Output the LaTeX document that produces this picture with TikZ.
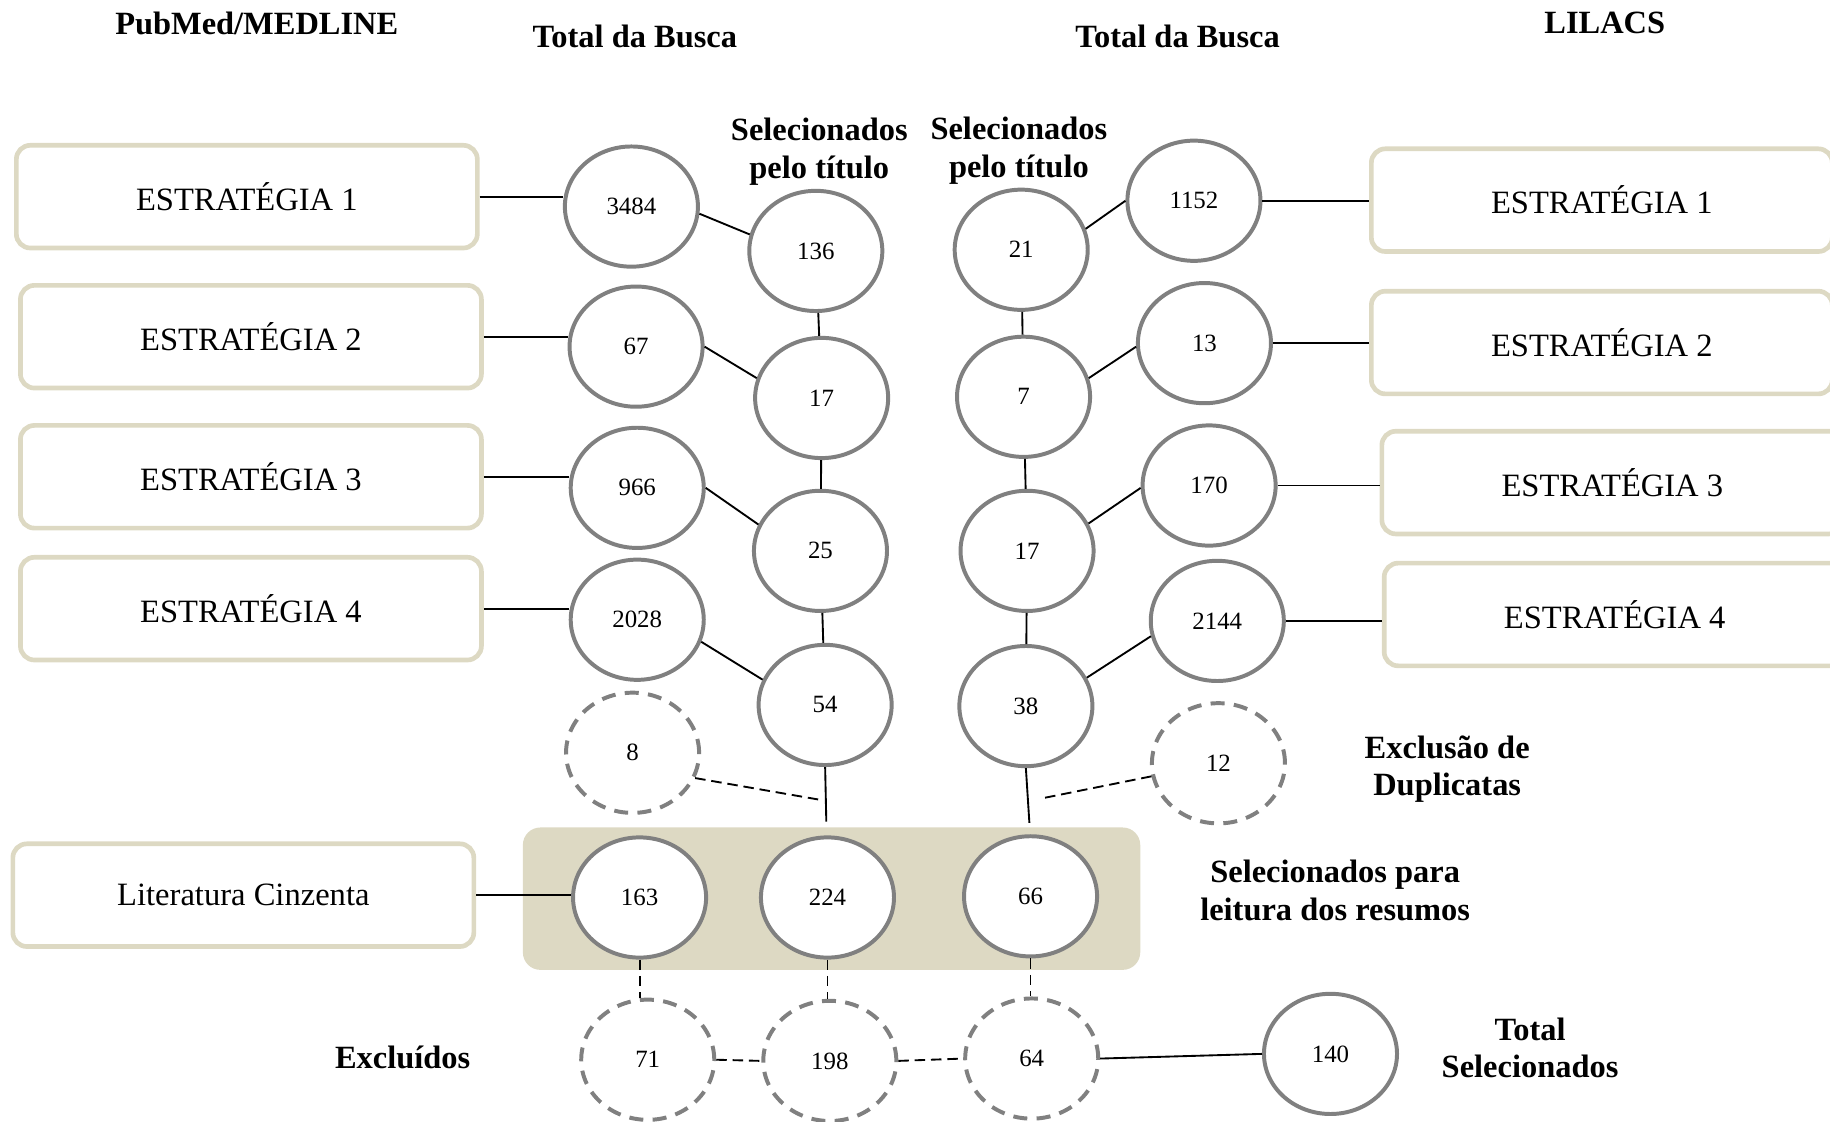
\documentclass[tikz,border=0pt]{standalone}
\usepackage{fontspec}
\setmainfont{Liberation Serif}
\usetikzlibrary{shapes.geometric}
\definecolor{tanfill}{HTML}{DDD9C3}
\definecolor{ringgray}{HTML}{808080}
\begin{document}
\begin{tikzpicture}[x=1pt,y=-1pt,
  stratbox/.style={draw=tanfill, line width=4pt, fill=white, rounded corners=12pt,
    minimum width=395pt, minimum height=88pt, inner sep=0pt,
    font=\fontsize{27.9}{32}\selectfont},
  numell/.style={ellipse, draw=ringgray, line width=3.4pt, fill=white,
    minimum width=114pt, minimum height=103pt, inner sep=0pt,
    font=\fontsize{21.3}{24}\selectfont},
  dashell/.style={numell, dash pattern=on 12pt off 8pt},
  lbl/.style={font=\fontsize{27.8}{32}\selectfont\bfseries, align=center, inner sep=0pt},
  conn/.style={line width=1.6pt},
  dconn/.style={line width=1.6pt, dash pattern=on 9pt off 5pt}]

\useasboundingbox (0,0) rectangle (1568,961);

% column headings
\node[lbl] (hpub) at (220,20) {PubMed/MEDLINE};
\node[lbl] (htl) at (544,31) {Total da Busca};
\node[lbl] (htr) at (1009,31) {Total da Busca};
\node[lbl] (hlil) at (1375,20) {LILACS};
\node[lbl] (hsl) at (702,130) {Selecionados\\pelo título};
\node[lbl] (hsr) at (873,129) {Selecionados\\pelo título};
\node[lbl] (hdup) at (1240,659) {Exclusão de\\Duplicatas};
\node[lbl] (hres) at (1144,763) {Selecionados para\\leitura dos resumos};
\node[lbl] (hexc) at (345,906) {Excluídos};
\node[lbl] (htot) at (1311,898) {Total\\Selecionados};

% strategy boxes, PubMed/MEDLINE
\node[stratbox] (L1) at (211.5,168.5) {ESTRATÉGIA 1};
\node[stratbox] (L2) at (215,288.5) {ESTRATÉGIA 2};
\node[stratbox] (L3) at (215,408.5) {ESTRATÉGIA 3};
\node[stratbox] (L4) at (215,521.5) {ESTRATÉGIA 4};
\node[stratbox] (LC) at (208.5,767) {Literatura Cinzenta};

% strategy boxes, LILACS
\node[stratbox] (R1) at (1372.5,171.5) {ESTRATÉGIA 1};
\node[stratbox] (R2) at (1372.5,293.5) {ESTRATÉGIA 2};
\node[stratbox] (R3) at (1381.5,413.5) {ESTRATÉGIA 3};
\node[stratbox] (R4) at (1383.5,526.5) {ESTRATÉGIA 4};

% band of records selected for abstract reading
\node[fill=tanfill, rounded corners=15pt, minimum width=529pt, minimum height=122pt,
  inner sep=0pt] (band) at (712.5,770) {};

% totals, PubMed/MEDLINE
\node[numell] (T1) at (541,177) {3484};
\node[numell] (T2) at (545,297) {67};
\node[numell] (T3) at (546,418) {966};
\node[numell] (T4) at (546,531) {2028};
% selected by title, PubMed/MEDLINE
\node[numell] (S1) at (699,215) {136};
\node[numell] (S2) at (704,341) {17};
\node[numell] (S3) at (703,472) {25};
\node[numell] (S4) at (707,604) {54};
% selected by title, LILACS
\node[numell] (P1) at (875,214) {21};
\node[numell] (P2) at (877,340) {7};
\node[numell] (P3) at (880,472) {17};
\node[numell] (P4) at (879,605) {38};
% totals, LILACS
\node[numell] (U1) at (1023,172) {1152};
\node[numell] (U2) at (1032,294) {13};
\node[numell] (U3) at (1036,416) {170};
\node[numell] (U4) at (1043,532) {2144};
% duplicates
\node[dashell] (D8) at (542,645) {8};
\node[dashell] (D12) at (1044,654) {12};
% abstracts
\node[numell] (A1) at (548,769) {163};
\node[numell] (A2) at (709,769) {224};
\node[numell] (A3) at (883,768) {66};
% excluded
\node[dashell] (X1) at (555,908) {71};
\node[dashell] (X2) at (711,909) {198};
\node[dashell] (X3) at (884,907) {64};
% final total
\node[numell] (F) at (1140,903) {140};

\coordinate (e1) at (708,704);
\coordinate (e2) at (882,705);
\coordinate (j1) at (701,685);
\coordinate (j2) at (893,684);

% boxes to totals
\draw[conn] (L1.east) -- (L1.east -| T1.west);
\draw[conn] (L2.east) -- (L2.east -| T2.west);
\draw[conn] (L3.east) -- (L3.east -| T3.west);
\draw[conn] (L4.east) -- (L4.east -| T4.west);
\draw[conn] (LC.east) -- (LC.east -| A1.west);
\draw[conn] (U1.east) -- (U1.east -| R1.west);
\draw[conn] (U2.east) -- (U2.east -| R2.west);
\draw[conn] (U3.east) -- (U3.east -| R3.west);
\draw[conn] (U4.east) -- (U4.east -| R4.west);

% totals to title selection
\draw[conn] (T1.-6) -- (S1.166);
\draw[conn] (T2.0) -- (S2.163);
\draw[conn] (T3.0) -- (S3.157);
\draw[conn] (T4.-19) -- (S4.158);
\draw[conn] (U1.180) -- (P1.18);
\draw[conn] (U2.183) -- (P2.16);
\draw[conn] (U3.182) -- (P3.24);
\draw[conn] (U4.193) -- (P4.25);

% title selection chains
\draw[conn] (S1) -- (S2);
\draw[conn] (S2) -- (S3);
\draw[conn] (S3) -- (S4);
\draw[conn] (P1) -- (P2);
\draw[conn] (P2) -- (P3);
\draw[conn] (P3) -- (P4);
\draw[conn] (S4.south) -- (e1);
\draw[conn] (P4.south) -- (e2);

% duplicates removed
\draw[dconn] (D8.-22) -- (j1);
\draw[dconn] (D12.191) -- (j2);

% exclusions after abstracts
\draw[dconn] (A1.south) -- (A1.south |- X1.north);
\draw[dconn] (A2.south) -- (A2.south |- X2.north);
\draw[dconn] (A3.south) -- (A3.south |- X3.north);
\draw[dconn] (X1.east) -- (X2.west);
\draw[dconn] (X2.east) -- (X3.west);
\draw[conn] (X3.east) -- (F.west);
\end{tikzpicture}
\end{document}
